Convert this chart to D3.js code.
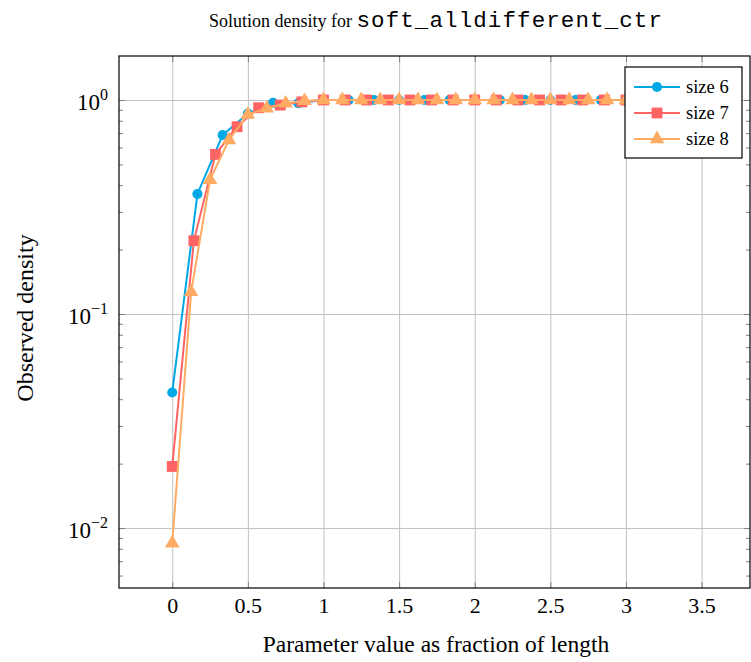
<!DOCTYPE html>
<html>
<head>
<meta charset="utf-8">
<script src="https://cdn.jsdelivr.net/npm/d3@7"></script>
<style>
  body { margin: 0; background: #fff; }
  svg { display: block; }
</style>
</head>
<body>
<div id="chart"></div>
<script>
// Wartości
const xSize6 = [0, 0.1667, 0.3333, 0.5, 0.6667, 0.8333, 1, 1.1667, 1.3333, 1.5, 1.6667, 1.8333, 2, 2.1667, 2.3333, 2.5, 2.6667, 2.8333, 3];
const ySize6 = [0.043, 0.364, 0.686, 0.864, 0.97, 0.965, 1, 1, 1, 1, 1, 1, 1, 1, 1, 1, 1, 1, 1];
const xSize7 = [0, 0.1429, 0.2857, 0.4286, 0.5714, 0.7143, 0.8571, 1, 1.1429, 1.2857, 1.4286, 1.5714, 1.7143, 1.8571, 2, 2.1429, 2.2857, 2.4286, 2.5714, 2.7143, 2.8571, 3];
const ySize7 = [0.0194, 0.22, 0.557, 0.75, 0.92, 0.947, 0.98, 1, 1, 1, 1, 1, 1, 1, 1, 1, 1, 1, 1, 1, 1, 1];
const xSize8 = [0, 0.125, 0.25, 0.375, 0.5, 0.625, 0.75, 0.875, 1, 1.125, 1.25, 1.375, 1.5, 1.625, 1.75, 1.875, 2, 2.125, 2.25, 2.375, 2.5, 2.625, 2.75, 2.875, 3];
const ySize8 = [0.0085, 0.127, 0.424, 0.65, 0.855, 0.914, 0.965, 0.99, 1, 1, 1, 1, 1, 1, 1, 1, 1, 1, 1, 1, 1, 1, 1, 1, 1];

const seriesNames = ["size 6", "size 7", "size 8"];
const xTicks = [0, 0.5, 1, 1.5, 2, 2.5, 3, 3.5];
const xTickLabels = ["0", "0.5", "1", "1.5", "2", "2.5", "3", "3.5"];
const yTicks = [0.01, 0.1, 1];
const yTickExponents = ["\u22122", "\u22121", "0"];
const yMinorTicks = [0.006, 0.007, 0.008, 0.009, 0.02, 0.03, 0.04, 0.05, 0.06, 0.07, 0.08, 0.09,
                     0.2, 0.3, 0.4, 0.5, 0.6, 0.7, 0.8, 0.9];

const W = 751, H = 662;
const m = {left: 119, top: 56, right: 750, bottom: 588};
const SERIF = "'Liberation Serif', 'DejaVu Serif', serif";
const MONO = "'Liberation Mono', 'DejaVu Sans Mono', monospace";

const colors = ["#00a8e6", "#ff6464", "#ffab63"];
const symbols = [d3.symbolCircle, d3.symbolSquare, d3.symbolTriangle];
const symbolSizes = [80, 118, 92];

const series = [
  {name: seriesNames[0], xs: xSize6, ys: ySize6},
  {name: seriesNames[1], xs: xSize7, ys: ySize7},
  {name: seriesNames[2], xs: xSize8, ys: ySize8}
];

const svg = d3.select("#chart").append("svg")
  .attr("width", W).attr("height", H);

const x = d3.scaleLinear().domain([-0.352, 3.82]).range([m.left, m.right]);
const y = d3.scaleLog().domain([0.005248, 1.605]).range([m.bottom, m.top]);

const pw = m.right - m.left, ph = m.bottom - m.top;

// Siatka
svg.append("g").attr("class", "grid-x")
  .attr("transform", `translate(0,${m.bottom})`)
  .call(d3.axisBottom(x).tickValues(xTicks).tickSize(-ph).tickFormat(""));
svg.append("g").attr("class", "grid-y")
  .attr("transform", `translate(${m.left},0)`)
  .call(d3.axisLeft(y).tickValues(yTicks).tickSize(-pw).tickFormat(""));
svg.selectAll(".grid-x, .grid-y").select(".domain").remove();
svg.selectAll(".grid-x line, .grid-y line").attr("stroke", "#c0c0c0").attr("stroke-width", 1);

// Kreski osi (do wewnątrz, na wszystkich bokach)
const tickGroups = [
  [d3.axisBottom(x).tickValues(xTicks).tickSize(-6), `translate(0,${m.bottom})`],
  [d3.axisTop(x).tickValues(xTicks).tickSize(-6), `translate(0,${m.top})`],
  [d3.axisLeft(y).tickValues(yTicks).tickSize(-6), `translate(${m.left},0)`],
  [d3.axisRight(y).tickValues(yTicks).tickSize(-6), `translate(${m.right},0)`],
  [d3.axisLeft(y).tickValues(yMinorTicks).tickSize(-4), `translate(${m.left},0)`],
  [d3.axisRight(y).tickValues(yMinorTicks).tickSize(-4), `translate(${m.right},0)`]
];
tickGroups.forEach(([ax, tr]) => {
  const g = svg.append("g").attr("transform", tr).call(ax.tickFormat(""));
  g.select(".domain").remove();
  g.selectAll("line").attr("stroke", "#808080").attr("stroke-width", 1);
});

// Dane
svg.append("clipPath").attr("id", "clip")
  .append("rect").attr("x", m.left).attr("y", m.top).attr("width", pw).attr("height", ph);
const plot = svg.append("g").attr("clip-path", "url(#clip)");
const line = d3.line().x(d => x(d[0])).y(d => y(d[1]));

series.forEach((s, i) => {
  const pts = s.xs.map((v, j) => [v, s.ys[j]]);
  plot.append("path")
    .datum(pts)
    .attr("fill", "none")
    .attr("stroke", colors[i])
    .attr("stroke-width", 2)
    .attr("stroke-linejoin", "round")
    .attr("d", line);
  plot.selectAll(".m" + i)
    .data(pts)
    .enter()
    .append("path")
      .attr("class", "m" + i)
      .attr("transform", d => `translate(${x(d[0])},${y(d[1])})`)
      .attr("d", d3.symbol().type(symbols[i]).size(symbolSizes[i]))
      .attr("fill", colors[i]);
});

// Ramka
svg.append("rect")
  .attr("x", m.left).attr("y", m.top).attr("width", pw).attr("height", ph)
  .attr("fill", "none").attr("stroke", "#000").attr("stroke-width", 1.2);

// Etykiety osi x
const xLab = svg.append("g").attr("transform", `translate(0,${m.bottom})`)
  .call(d3.axisBottom(x).tickValues(xTicks).tickSize(0).tickPadding(9)
    .tickFormat((d, i) => xTickLabels[i]));
xLab.select(".domain").remove();
xLab.attr("font-family", SERIF).attr("font-size", 22);
xLab.selectAll("text").attr("fill", "#000");

// Etykiety osi y (10 do potęgi)
const yLab = svg.append("g").attr("transform", `translate(${m.left},0)`)
  .call(d3.axisLeft(y).tickValues(yTicks).tickSize(0).tickPadding(11).tickFormat(""));
yLab.select(".domain").remove();
yLab.attr("font-family", SERIF).attr("font-size", 23);
yLab.selectAll("text")
  .attr("fill", "#000")
  .attr("dy", "0.42em")
  .each(function(d, i) {
    const t = d3.select(this);
    t.append("tspan").text("10");
    t.append("tspan").attr("dy", -10).attr("font-size", 16).text(yTickExponents[i]);
  });

// Tytuł
const title = svg.append("text")
  .attr("x", 436).attr("y", 27)
  .attr("text-anchor", "middle")
  .attr("fill", "#000");
title.append("tspan").attr("font-family", SERIF).attr("font-size", 18).text("Solution density for ");
title.append("tspan")
  .attr("font-family", MONO)
  .attr("font-size", 22.5)
  .attr("letter-spacing", 1.1)
  .text("soft_alldifferent_ctr");

// Podpisy osi
svg.append("text")
  .attr("font-family", SERIF)
  .attr("x", 436).attr("y", 652)
  .attr("text-anchor", "middle")
  .attr("font-size", 23.5)
  .text("Parameter value as fraction of length");
svg.append("text")
  .attr("font-family", SERIF)
  .attr("transform", "translate(33,318) rotate(-90)")
  .attr("text-anchor", "middle")
  .attr("font-size", 24)
  .text("Observed density");

// Legenda
const lg = svg.append("g").attr("transform", "translate(625,67)");
lg.append("rect")
  .attr("width", 117).attr("height", 91)
  .attr("fill", "#fff").attr("stroke", "#000").attr("stroke-width", 1.2);
series.forEach((s, i) => {
  const yy = 20 + i * 26;
  lg.append("line")
    .attr("x1", 9).attr("x2", 55).attr("y1", yy).attr("y2", yy)
    .attr("stroke", colors[i]).attr("stroke-width", 2);
  lg.append("path")
    .attr("transform", `translate(32,${yy})`)
    .attr("d", d3.symbol().type(symbols[i]).size(symbolSizes[i]))
    .attr("fill", colors[i]);
  lg.append("text")
    .attr("font-family", SERIF)
    .attr("x", 61).attr("y", yy + 6)
    .attr("font-size", 18.5)
    .text(s.name);
});
</script>
</body>
</html>
